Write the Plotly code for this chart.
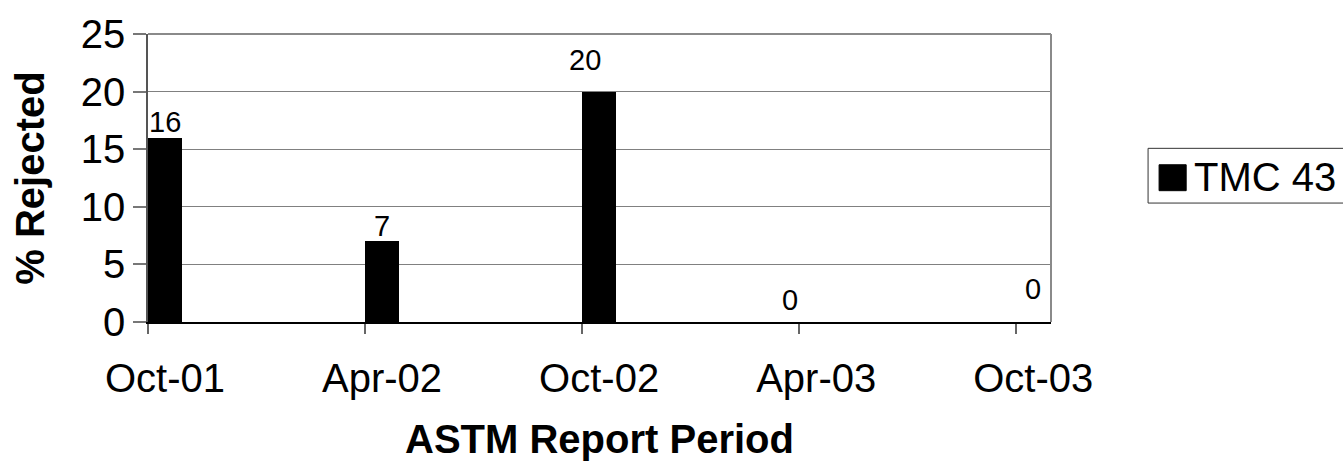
import plotly.graph_objects as go

# Report periods and rejection rates
periods = ["Oct-01", "Apr-02", "Oct-02", "Apr-03", "Oct-03"]
rejected = [16, 7, 20, 0, 0]
series_name = "TMC 43"
y_ticks = [0, 5, 10, 15, 20, 25]

FONT = "Liberation Sans, Arial, sans-serif"
BAR_W = 0.155          # bar width in period units; bars start at the tick
pos = list(range(len(periods)))
centers = [p + BAR_W / 2 for p in pos]

# per-label pixel offsets of the value labels (dx, dy) from the bar top centre
label_offsets = [(0, -16), (0, -15), (-14, -32), (-26, -22), (0, -33)]

fig = go.Figure()
fig.add_trace(go.Bar(
    x=pos, y=rejected, width=BAR_W, offset=0,
    marker=dict(color="black", line=dict(width=0)),
    name=series_name, showlegend=False, hoverinfo="x+y",
))

for c, v, (dx, dy) in zip(centers, rejected, label_offsets):
    fig.add_annotation(
        x=c, y=v, text=str(v), showarrow=False,
        xanchor="center", yanchor="middle", xshift=dx, yshift=-dy,
        font=dict(family=FONT, size=29, color="black"),
    )

# plot frame: grey top/right border
fig.add_shape(type="line", xref="paper", yref="paper", x0=0, x1=1, y0=1, y1=1,
              line=dict(color="#8a8a8a", width=2))
fig.add_shape(type="line", xref="paper", yref="paper", x0=1, x1=1, y0=0, y1=1,
              line=dict(color="#8a8a8a", width=2))

# legend box drawn by hand so the swatch matches the text size
fig.add_shape(type="rect", xref="paper", yref="paper",
              x0=1.1075, x1=1.33, y0=0.413, y1=0.603,
              line=dict(color="#333333", width=1), fillcolor="white")
fig.add_shape(type="rect", xref="paper", yref="paper",
              x0=1.1197, x1=1.1497, y0=0.456, y1=0.546,
              line=dict(color="black", width=1), fillcolor="black")
fig.add_annotation(xref="paper", yref="paper", x=1.156, y=0.503,
                   text=series_name, showarrow=False, xanchor="left", yanchor="middle",
                   font=dict(family=FONT, size=40, color="black"))

fig.update_layout(
    width=1343, height=468,
    margin=dict(l=148, r=292, t=25, b=146),
    paper_bgcolor="white", plot_bgcolor="white",
    font=dict(family=FONT, color="black"),
    bargap=0,
)
fig.update_xaxes(
    range=[0, 4.16], tickmode="array", tickvals=pos, ticktext=periods,
    ticks="outside", ticklen=10, tickcolor="#666666", tickwidth=1.5,
    ticklabelshift=17, ticklabelstandoff=10,
    tickfont=dict(family=FONT, size=40),
    showline=True, linecolor="black", linewidth=1.5,
    showgrid=False, zeroline=False,
    title=dict(text="<b>ASTM Report Period</b>", font=dict(family=FONT, size=40), standoff=26),
)
fig.update_yaxes(
    range=[0, 25], tickmode="array", tickvals=y_ticks,
    ticks="outside", ticklen=13, tickcolor="#777777", tickwidth=1.5,
    tickfont=dict(family=FONT, size=40),
    showline=True, linecolor="#555555", linewidth=1.5,
    showgrid=True, gridcolor="#808080", gridwidth=1, zeroline=False,
    title=dict(text="<b>% Rejected</b>", font=dict(family=FONT, size=40), standoff=24),
)

fig.write_html("out.html")
